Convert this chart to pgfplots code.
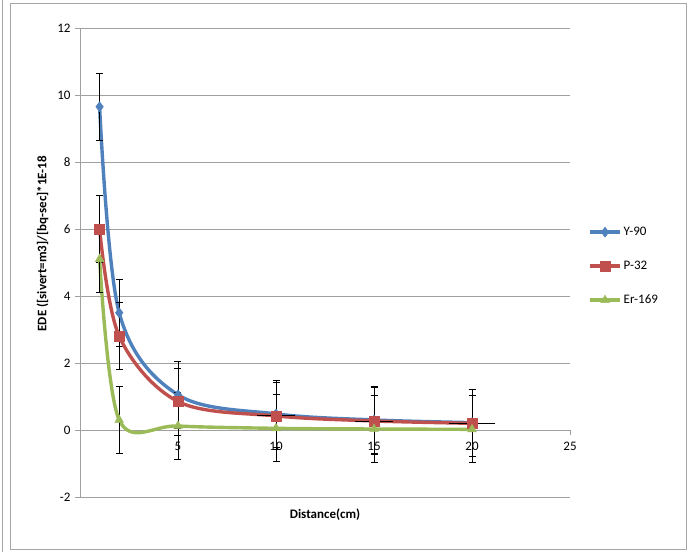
\documentclass[border=0pt]{standalone}
\usepackage{pgfplots}
\pgfplotsset{compat=1.18}
\usepackage{fontspec}
\setmainfont{Carlito}
\definecolor{cblue}{HTML}{4F81BD}
\definecolor{cred}{HTML}{C0504D}
\definecolor{cgreen}{HTML}{9BBB59}
\definecolor{gridc}{HTML}{A0A0A0}
\begin{document}
\begin{tikzpicture}[x=1pt,y=1pt]
\useasboundingbox (-80,-55) rectangle (608,497);
\draw[gray!70, line width=0.8pt] (-70,-52) rectangle (606,494);
\draw[gray!70, line width=0.8pt] (-78,-55) -- (-78,497);
\begin{axis}[
  at={(0,0)}, anchor=south west,
  scale only axis, width=490pt, height=469pt,
  xmin=0, xmax=25, ymin=-2, ymax=12,
  axis x line=middle, axis y line=left,
  axis line style={gridc, line width=0.9pt, -},
  xtick={0,5,...,25}, ytick={-2,0,...,12},
  ymajorgrids, grid style={gridc, line width=0.9pt},
  tick style={gridc, line width=0.9pt},
  major tick length=5pt,
  tick align=outside,
  ticklabel style={font=\fontsize{13}{15}\selectfont, black},
  /pgf/number format/assume math mode=true,
  xticklabel style={yshift=-4pt},
  yticklabel style={xshift=-1pt},
  xlabel={\textbf{Distance(cm)}},
  ylabel={\textbf{EDE ([sivert=m3]/[bq-sec]*1E-18}},
  label style={font=\fontsize{13}{15}\selectfont},
  xlabel style={at={(axis description cs:0.5,0)}, anchor=north, yshift=-8pt},
  ylabel style={at={(axis description cs:0,0.54)}, anchor=south, yshift=28pt},
  clip=false,
  legend style={at={(1.037,0.58)}, anchor=north west, draw=none, fill=none,
    font=\fontsize{13}{15}\selectfont, row sep=20pt, inner sep=0pt},
  legend cell align=left,
  legend image code/.code={\draw[#1, mark repeat=2, mark phase=2] plot coordinates {(0pt,0pt) (15pt,0pt) (30pt,0pt)};},
  error bars/error bar style={black, line width=0.9pt},
  error bars/error mark options={black, rotate=90, mark size=3.5pt, line width=0.9pt},
]
\addplot[cblue, line width=3.4pt, smooth, tension=0.55, mark=diamond*, mark size=5pt,
  mark options={fill=cblue, draw=cblue, line width=0.5pt},
  error bars/.cd, y dir=both, y explicit]
  coordinates {(1,9.65) +- (0,1) (2,3.5) +- (0,1) (5,1.05) +- (0,1) (10,0.48) +- (0,1) (15,0.3) +- (0,1) (20,0.22) +- (0,1)};
\addlegendentry{Y-90}
\addplot[cred, line width=3.4pt, smooth, tension=0.55, mark=square*, mark size=5pt,
  mark options={fill=cred, draw=cred, line width=0.5pt},
  error bars/.cd, y dir=both, y explicit]
  coordinates {(1,6.0) +- (0,1) (2,2.8) +- (0,1) (5,0.85) +- (0,1) (10,0.42) +- (0,1) (15,0.27) +- (0,1) (20,0.2) +- (0,1)};
\addlegendentry{P-32}
\addplot[cgreen, line width=3.4pt, smooth, tension=0.55, mark=triangle*, mark size=5pt,
  mark options={fill=cgreen, draw=cgreen, line width=0.5pt},
  error bars/.cd, y dir=both, y explicit]
  coordinates {(1,5.1) +- (0,1) (2,0.3) +- (0,1) (5,0.12) +- (0,1) (10,0.05) +- (0,1) (15,0.03) +- (0,1) (20,0.02) +- (0,1)};
\addlegendentry{Er-169}
\addplot[draw=none, forget plot,
  error bars/.cd, x dir=both, x explicit,
  error mark options={black, rotate=0, mark size=3.5pt, line width=0.9pt}]
  coordinates {(10,0.42) +- (0.8,0) (15,0.27) +- (0.8,0) (20,0.2) +- (1,0)};
\end{axis}
\end{tikzpicture}
\end{document}
